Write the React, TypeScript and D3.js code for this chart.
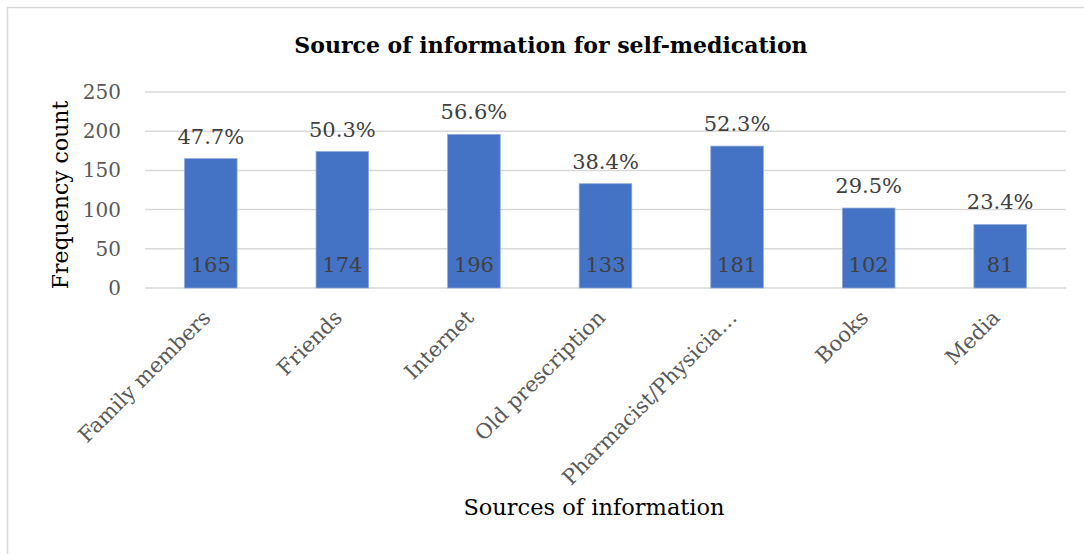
import React from "react";
import * as d3 from "d3";

const categories = [
  "Family members",
  "Friends",
  "Internet",
  "Old prescription",
  "Pharmacist/Physicia…",
  "Books",
  "Media",
];
const counts = [165, 174, 196, 133, 181, 102, 81];
const percents = ["47.7%", "50.3%", "56.6%", "38.4%", "52.3%", "29.5%", "23.4%"];
const yTicks = [0, 50, 100, 150, 200, 250];

const W = 1084;
const H = 554;
const FONT = "'DejaVu Serif', 'Liberation Serif', serif";

export default function App() {
  const x = d3
    .scaleBand<string>()
    .domain(categories)
    .range([145, 1066])
    .paddingInner(0.6)
    .paddingOuter(0.3);
  const y = d3.scaleLinear().domain([0, 250]).range([288, 92]);
  const y0 = y(0);

  return (
    <svg
      width={W}
      height={H}
      style={{ position: "absolute", left: 0, top: 0, background: "#fff" }}
    >
      <rect x={7.5} y={7.5} width={1200} height={700} fill="#fff" stroke="#d9d9d9" strokeWidth={1.5} />
      <text x={551} y={53} textAnchor="middle" fontFamily={FONT} fontWeight="bold" fontSize={22} fill="#000">
        Source of information for self-medication
      </text>
      {yTicks.map((t) => (
        <g key={t}>
          <line x1={145} x2={1066} y1={y(t)} y2={y(t)} stroke="#d9d9d9" strokeWidth={1.5} />
          <text x={121} y={y(t) + 7} textAnchor="end" fontFamily={FONT} fontSize={20} fill="#595959">
            {t}
          </text>
        </g>
      ))}
      {categories.map((c, i) => {
        const bx = x(c)!;
        const bw = x.bandwidth();
        const cx = bx + bw / 2;
        return (
          <g key={c}>
            <rect x={bx} y={y(counts[i])} width={bw} height={y0 - y(counts[i])} fill="#4472C4" stroke="#8faadc" strokeWidth={0.75} />
            <text x={cx} y={y(counts[i]) - 15} textAnchor="middle" fontFamily={FONT} fontSize={21} fill="#404040">
              {percents[i]}
            </text>
            <text x={cx} y={y0 - 16} textAnchor="middle" fontFamily={FONT} fontSize={21} fill="#404040">
              {counts[i]}
            </text>
            <text
              transform={`translate(${cx + 1},${y0 + 31}) rotate(-45)`}
              textAnchor="end"
              fontFamily={FONT}
              fontSize={21}
              fill="#595959"
            >
              {c}
            </text>
          </g>
        );
      })}
      <text transform={`translate(68,195) rotate(-90)`} textAnchor="middle" fontFamily={FONT} fontSize={22} fill="#000">
        Frequency count
      </text>
      <text x={594} y={515} textAnchor="middle" fontFamily={FONT} fontSize={22.5} fill="#000">
        Sources of information
      </text>
    </svg>
  );
}
